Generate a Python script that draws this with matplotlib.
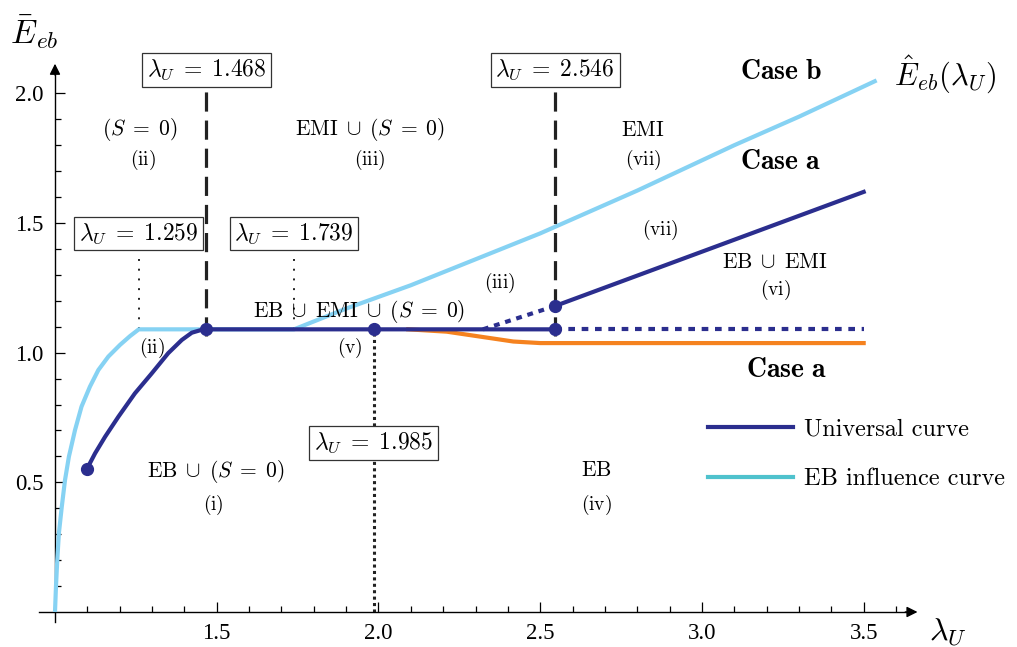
import numpy as np
import matplotlib
matplotlib.use("Agg")
import matplotlib.pyplot as plt
from matplotlib.lines import Line2D

plt.rcParams['font.family'] = ['cmr10', 'DejaVu Serif']
plt.rcParams['mathtext.fontset'] = 'cm'
plt.rcParams['axes.unicode_minus'] = False

DARK = '#2b2e8e'
LIGHT = '#86d2f3'
ORANGE = '#f5821f'
TEAL = '#4fc2cd'

# EB influence curve
eb_x = [1.0, 1.003, 1.007, 1.012, 1.021, 1.031, 1.043, 1.062, 1.082, 1.108,
        1.134, 1.165, 1.201, 1.232, 1.259,
        1.739, 1.9, 2.1, 2.3, 2.5, 2.8, 3.1, 3.3, 3.54]
eb_y = [0.0, 0.098, 0.20, 0.303, 0.406, 0.509, 0.599, 0.702, 0.792, 0.869,
        0.933, 0.985, 1.030, 1.064, 1.09,
        1.09, 1.17, 1.26, 1.36, 1.46, 1.625, 1.80, 1.91, 2.05]

# universal curve
univ_x = [1.098, 1.124, 1.155, 1.196, 1.247, 1.299, 1.350, 1.392, 1.423,
          1.453, 1.468, 2.546]
univ_y = [0.550, 0.612, 0.676, 0.753, 0.843, 0.920, 0.998, 1.049, 1.077,
          1.088, 1.09, 1.09]
upper_x = [2.546, 3.5]
upper_y = [1.18, 1.62]
rise_x = [2.323, 2.546]
rise_y = [1.09, 1.18]
flat_x = [2.546, 3.5]
flat_y = [1.09, 1.09]

orange_x = [2.092, 2.211, 2.314, 2.417, 2.5, 3.5]
orange_y = [1.09, 1.081, 1.062, 1.043, 1.037, 1.037]

dot_x = [1.098, 1.468, 1.985, 2.546, 2.546]
dot_y = [0.55, 1.09, 1.09, 1.09, 1.18]

# thresholds on lambda_U
lam_dashed = [1.468, 2.546]
lam_thin = [1.259, 1.739]
lam_mid = 1.985

fig = plt.figure(figsize=(10.17, 6.47), dpi=100)
ax = fig.add_axes([0, 0, 1, 1])
ax.set_xlim(0.83, 3.974)
ax.set_ylim(-0.135, 2.36)

for s in ['top', 'right']:
    ax.spines[s].set_visible(False)
ax.spines['left'].set_position(('data', 1.0))
ax.spines['bottom'].set_position(('data', 0.0))
ax.spines['left'].set_bounds(-0.04, 2.08)
ax.spines['bottom'].set_bounds(0.95, 3.64)
ax.spines['left'].set_linewidth(1.0)
ax.spines['bottom'].set_linewidth(1.0)
ax.annotate('', xy=(1.0, 2.125), xytext=(1.0, 2.06),
            arrowprops=dict(arrowstyle='-|>', color='k', lw=1.0, mutation_scale=16))
ax.annotate('', xy=(3.675, 0.0), xytext=(3.62, 0.0),
            arrowprops=dict(arrowstyle='-|>', color='k', lw=1.0, mutation_scale=16))

xmaj = [1.5, 2.0, 2.5, 3.0, 3.5]
ymaj = [0.5, 1.0, 1.5, 2.0]
ax.set_xticks(xmaj)
ax.set_xticklabels(['%.1f' % v for v in xmaj], family='Liberation Serif', fontsize=16.5)
ax.set_yticks(ymaj)
ax.set_yticklabels(['%.1f' % v for v in ymaj], family='Liberation Serif', fontsize=16.5)
ax.set_xticks([round(1.1 + 0.1 * i, 1) for i in range(26)
               if round(1.1 + 0.1 * i, 1) not in xmaj], minor=True)
ax.set_yticks([round(0.1 + 0.1 * i, 1) for i in range(19)
               if round(0.1 + 0.1 * i, 1) not in ymaj], minor=True)
ax.tick_params(which='major', direction='in', length=7, width=0.9, pad=8)
ax.tick_params(which='minor', direction='in', length=4.5, width=0.9)

# curves
ax.plot(eb_x, eb_y, color=LIGHT, lw=3, solid_capstyle='butt', zorder=3)
ax.plot(orange_x, orange_y, color=ORANGE, lw=3, zorder=3)
ax.plot(univ_x, univ_y, color=DARK, lw=3, zorder=4)
ax.plot(upper_x, upper_y, color=DARK, lw=3, zorder=4)
ax.plot(rise_x, rise_y, color=DARK, lw=3, ls=(0, (1.4, 1.4)), zorder=4)
ax.plot(flat_x, flat_y, color=DARK, lw=3, ls=(0, (1.6, 1.6)), zorder=4)
ax.plot(dot_x, dot_y, 'o', color=DARK, ms=8.5, zorder=6)

# threshold markers
for lam in lam_dashed:
    ax.plot([lam, lam], [1.065, 2.04], color='#222222', lw=2.3,
            ls=(0, (6, 2.8)), zorder=5)
for lam in lam_thin:
    ax.plot([lam, lam], [1.09, 1.39], color='#222222', lw=1.4,
            ls=(0, (1, 4)), zorder=2)
ax.plot([lam_mid, lam_mid], [0.0, 1.09], color='#222222', lw=2.2,
        ls=(0, (1, 1.1)), zorder=2)

box = dict(boxstyle='square,pad=0.2', fc='white', ec='#333333', lw=0.9)
for lam, yy in [(1.259, 1.46), (1.739, 1.46), (1.468, 2.09),
                (2.546, 2.09), (1.985, 0.652)]:
    ax.text(lam, yy, r'$\lambda_U\;=\;%.3f$' % lam, fontsize=17,
            ha='center', va='center', bbox=box, zorder=7)

# region labels
big = 15.5
small = 14
U = r'\;\cup\;'
S0 = r'(S\;=\;0)'
regions = [
    (1.263, 1.859, '$' + S0 + '$', big), (1.272, 1.743, r'$\mathrm{(ii)}$', small),
    (1.974, 1.859, r'$\mathrm{EMI}' + U + S0 + '$', big), (1.974, 1.743, r'$\mathrm{(iii)}$', small),
    (2.818, 1.859, r'$\mathrm{EMI}$', big), (2.818, 1.743, r'$\mathrm{(vii)}$', small),
    (2.87, 1.473, r'$\mathrm{(vii)}$', small),
    (3.226, 1.35, r'$\mathrm{EB}' + U + r'\mathrm{EMI}$', big), (3.226, 1.242, r'$\mathrm{(vi)}$', small),
    (2.375, 1.269, r'$\mathrm{(iii)}$', small),
    (1.94, 1.157, r'$\mathrm{EB}' + U + r'\mathrm{EMI}' + U + S0 + '$', big),
    (1.912, 1.018, r'$\mathrm{(v)}$', small), (1.30, 1.018, r'$\mathrm{(ii)}$', small),
    (1.498, 0.541, r'$\mathrm{EB}' + U + S0 + '$', big), (1.488, 0.413, r'$\mathrm{(i)}$', small),
    (2.675, 0.548, r'$\mathrm{EB}$', big), (2.675, 0.413, r'$\mathrm{(iv)}$', small),
]
for x, y, s, fs in regions:
    ax.text(x, y, s, fontsize=fs, ha='center', va='center', zorder=8)

ax.text(3.244, 2.083, r'$\mathbf{Case\ b}$', fontsize=20, ha='center', va='center')
ax.text(3.244, 1.735, r'$\mathbf{Case\ a}$', fontsize=20, ha='center', va='center')
ax.text(3.26, 0.933, r'$\mathbf{Case\ a}$', fontsize=20, ha='center', va='center')
ax.text(3.75, 2.071, r'$\hat{E}_{eb}(\lambda_U)$', fontsize=22, ha='center', va='center')
ax.text(0.935, 2.237, r'$\bar{E}_{eb}$', fontsize=24, ha='center', va='center')
ax.text(3.76, -0.077, r'$\lambda_U$', fontsize=23, ha='center', va='center')

handles = [Line2D([], [], color=DARK, lw=3), Line2D([], [], color=TEAL, lw=3)]
ax.legend(handles, ['Universal curve', 'EB influence curve'], loc='center left',
          bbox_to_anchor=(0.696, 0.298), frameon=False, fontsize=17.5,
          handlelength=3.5, handletextpad=0.45, labelspacing=1.15, borderpad=0,
          borderaxespad=0)

fig.savefig('out.png', dpi=100)
